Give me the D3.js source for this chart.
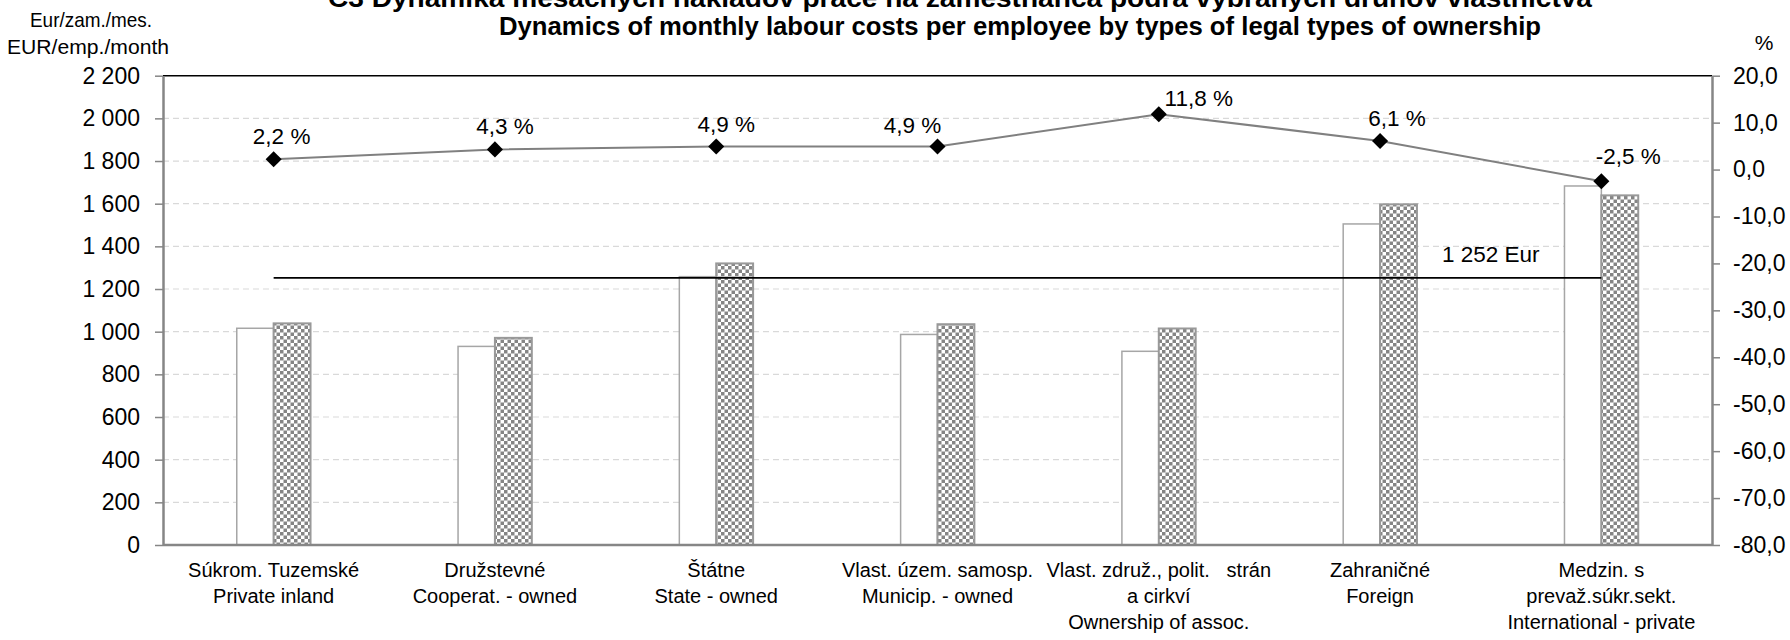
<!DOCTYPE html>
<html>
<head>
<meta charset="utf-8">
<script src="https://cdn.jsdelivr.net/npm/d3@7"></script>
<style>
  html, body { margin: 0; padding: 0; background: #fff; }
  svg { display: block; font-family: "Liberation Sans", Arial, sans-serif; }
  text { fill: #000; }
</style>
</head>
<body>
<svg id="chart" width="1790" height="640"></svg>
<script>
// ---------- data ----------
const categories = [
  ["Súkrom. Tuzemské", "Private inland"],
  ["Družstevné", "Cooperat. - owned"],
  ["Štátne", "State - owned"],
  ["Vlast. územ. samosp.", "Municip. - owned"],
  ["Vlast. združ., polit.   strán", "a cirkví", "Ownership of assoc."],
  ["Zahraničné", "Foreign"],
  ["Medzin. s", "prevaž.súkr.sekt.", "International - private"]
];
const costsPrevYear = [1016, 931, 1258, 987, 908, 1505, 1683];
const costsCurrYear = [1039, 971, 1320, 1035, 1015, 1597, 1639];
const growthPct     = [2.2, 4.3, 4.9, 4.9, 11.8, 6.1, -2.5];
const averageCost   = 1252;
const leftTicks  = [0, 200, 400, 600, 800, 1000, 1200, 1400, 1600, 1800, 2000, 2200];
const rightTicks = [-80, -70, -60, -50, -40, -30, -20, -10, 0, 10, 20];
const titleLine1 = "C3 Dynamika mesačných nákladov práce na zamestnanca podľa vybraných druhov vlastníctva";
const titleLine2 = "Dynamics of monthly labour costs per employee by types of legal types of ownership";
const leftAxisTitle = ["Eur/zam./mes.", "EUR/emp./month"];
const rightAxisTitle = "%";

// ---------- layout ----------
const svg = d3.select("#chart");
const plot = { left: 163, right: 1712, top: 75.7, bottom: 545 };

const locale = d3.formatLocale({ decimal: ",", thousands: "\u00a0", grouping: [3], currency: ["", ""], minus: "-" });
const fmtLeft = v => locale.format(",")(v).replace(/\u00a0/g, " ");
const fmtRight = locale.format(".1f");
const fmtPct = v => locale.format(".1f")(v) + " %";
const fmtAvg = v => locale.format(",")(v).replace(/\u00a0/g, " ") + " Eur";

const idx = categories.map((d, i) => i);
const x = d3.scaleBand().domain(idx).range([plot.left, plot.right]).padding(0);
const yL = d3.scaleLinear().domain([0, 2200]).range([plot.bottom, plot.top]);
const yR = d3.scaleLinear().domain([-80, 20]).range([plot.bottom, plot.top]);
const cx = i => x(i) + x.bandwidth() / 2;
const barW = x.bandwidth() / 6;

// pattern
const defs = svg.append("defs");
const pat = defs.append("pattern").attr("id", "checker")
  .attr("patternUnits", "userSpaceOnUse").attr("width", 7).attr("height", 7);
pat.append("rect").attr("width", 7).attr("height", 7).attr("fill", "#ffffff");
pat.append("rect").attr("x", 0).attr("y", 0).attr("width", 3.5).attr("height", 3.5).attr("fill", "#858585");
pat.append("rect").attr("x", 3.5).attr("y", 3.5).attr("width", 3.5).attr("height", 3.5).attr("fill", "#858585");

// gridlines
svg.append("g").selectAll("line")
  .data(leftTicks.filter(t => t > 0 && t < 2200))
  .join("line")
  .attr("x1", plot.left).attr("x2", plot.right)
  .attr("y1", d => yL(d)).attr("y2", d => yL(d))
  .attr("stroke", "#d9d9d9").attr("stroke-width", 1.2)
  .attr("stroke-dasharray", "6,4");

// top border
svg.append("line")
  .attr("x1", plot.left).attr("x2", plot.right)
  .attr("y1", plot.top).attr("y2", plot.top)
  .attr("stroke", "#000").attr("stroke-width", 1.5);

// bars
const bars = svg.append("g");
bars.selectAll("rect.prev").data(costsPrevYear).join("rect").attr("class", "prev")
  .attr("x", (d, i) => cx(i) - barW).attr("width", barW)
  .attr("y", d => yL(d)).attr("height", d => yL(0) - yL(d))
  .attr("fill", "#fff").attr("stroke", "#a6a6a6").attr("stroke-width", 1.5);
bars.selectAll("rect.curr").data(costsCurrYear).join("rect").attr("class", "curr")
  .attr("x", (d, i) => cx(i)).attr("width", barW)
  .attr("y", d => yL(d)).attr("height", d => yL(0) - yL(d))
  .attr("fill", "url(#checker)").attr("stroke", "#999").attr("stroke-width", 2);

// axes
const axL = d3.axisLeft(yL).tickValues(leftTicks).tickFormat(fmtLeft).tickSize(8).tickPadding(15).tickSizeOuter(0);
const gL = svg.append("g").attr("transform", `translate(${plot.left},0)`).call(axL);
const axR = d3.axisRight(yR).tickValues(rightTicks).tickFormat(fmtRight).tickSize(8).tickPadding(13).tickSizeOuter(0);
const gR = svg.append("g").attr("transform", `translate(${plot.right},0)`).call(axR);
[gL, gR].forEach(g => {
  g.select(".domain").attr("stroke", "#868686").attr("stroke-width", 2.5);
  g.selectAll(".tick line").attr("stroke", "#868686").attr("stroke-width", 1.5);
  g.selectAll(".tick text").attr("font-size", 23).attr("font-family", "Liberation Sans, Arial, sans-serif").attr("fill", "#000");
});
// bottom axis
svg.append("line")
  .attr("x1", plot.left).attr("x2", plot.right)
  .attr("y1", plot.bottom).attr("y2", plot.bottom)
  .attr("stroke", "#868686").attr("stroke-width", 2.5);

// category labels
const catG = svg.append("g").attr("font-size", 20).attr("text-anchor", "middle");
categories.forEach((lines, i) => {
  const t = catG.append("text").attr("x", cx(i)).attr("y", 577).style("white-space", "pre");
  lines.forEach((ln, j) => {
    t.append("tspan").attr("x", cx(i)).attr("dy", j === 0 ? 0 : 26).text(ln);
  });
});

// average line
svg.append("line")
  .attr("x1", cx(0)).attr("x2", cx(categories.length - 1))
  .attr("y1", yL(averageCost)).attr("y2", yL(averageCost))
  .attr("stroke", "#000").attr("stroke-width", 1.8);
svg.append("text")
  .attr("x", (cx(5) + cx(6)) / 2).attr("y", yL(averageCost) - 16)
  .attr("text-anchor", "middle").attr("font-size", 22.5)
  .text(fmtAvg(averageCost));

// growth line
const line = d3.line().x((d, i) => cx(i)).y(d => yR(d));
svg.append("path").datum(growthPct).attr("d", line)
  .attr("fill", "none").attr("stroke", "#808080").attr("stroke-width", 2);
svg.append("g").selectAll("path").data(growthPct).join("path")
  .attr("d", d3.symbol(d3.symbolDiamond2, 165))
  .attr("transform", (d, i) => `translate(${cx(i)},${yR(d)})`)
  .attr("fill", "#000");

// growth labels (manual nudges as in the original chart)
const labelNudge = [[8, -15], [10, -15], [10, -15], [-25, -14], [40, -8], [17, -15], [27, -17]];
svg.append("g").attr("font-size", 22.5).attr("text-anchor", "middle")
  .selectAll("text").data(growthPct).join("text")
  .attr("x", (d, i) => cx(i) + labelNudge[i][0])
  .attr("y", (d, i) => yR(d) + labelNudge[i][1])
  .text(d => fmtPct(d));

// titles
svg.append("text").attr("x", 960).attr("y", 7).attr("text-anchor", "middle")
  .attr("font-size", 25).attr("font-weight", "bold")
  .attr("textLength", 1264).attr("lengthAdjust", "spacingAndGlyphs").text(titleLine1);
svg.append("text").attr("x", 1020).attr("y", 35).attr("text-anchor", "middle")
  .attr("font-size", 25).attr("font-weight", "bold")
  .attr("textLength", 1042).attr("lengthAdjust", "spacingAndGlyphs").text(titleLine2);

// axis titles
svg.append("text").attr("x", 91).attr("y", 27).attr("text-anchor", "middle")
  .attr("font-size", 21).attr("textLength", 122).attr("lengthAdjust", "spacingAndGlyphs")
  .text(leftAxisTitle[0]);
svg.append("text").attr("x", 88).attr("y", 54).attr("text-anchor", "middle")
  .attr("font-size", 21).attr("textLength", 162).attr("lengthAdjust", "spacingAndGlyphs")
  .text(leftAxisTitle[1]);
svg.append("text").attr("x", 1764).attr("y", 50).attr("text-anchor", "middle")
  .attr("font-size", 21).text(rightAxisTitle);
</script>
</body>
</html>
